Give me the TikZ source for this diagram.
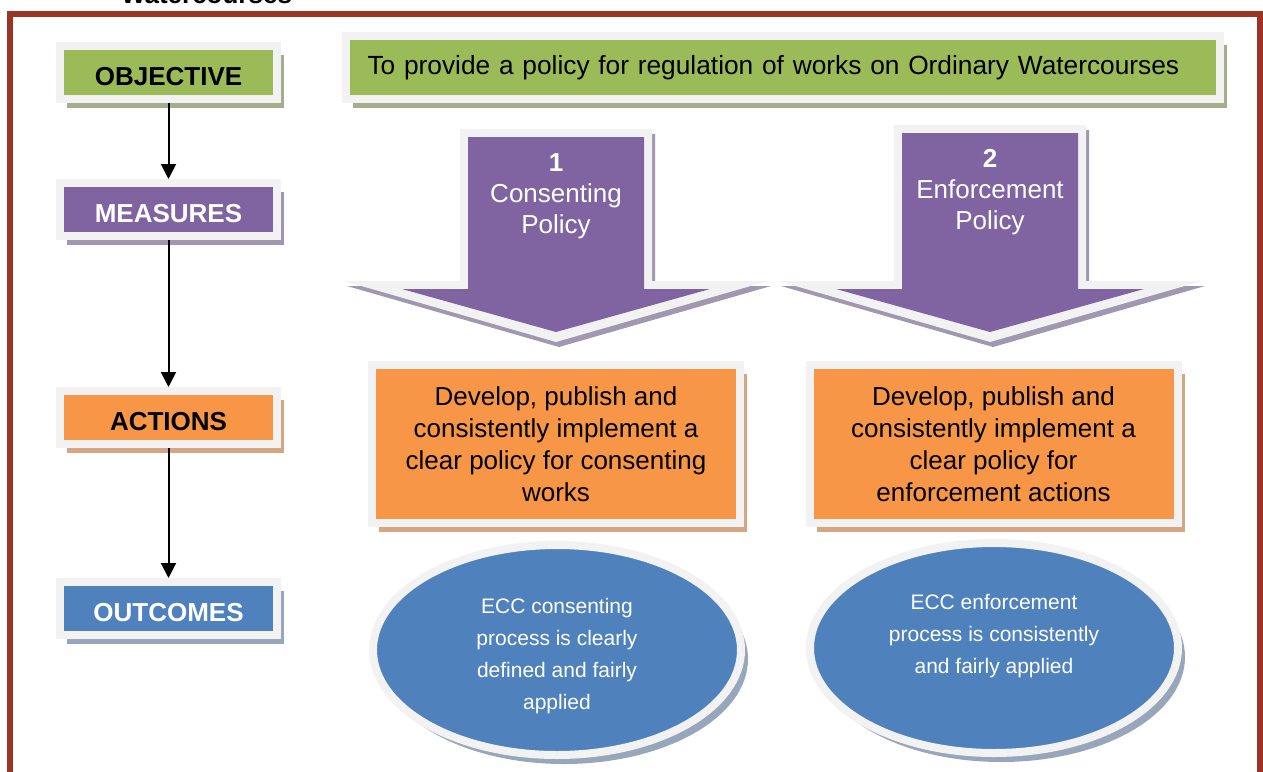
\documentclass[tikz,border=0pt]{standalone}
\usepackage{fontspec}
\setmainfont{Liberation Sans}
\usetikzlibrary{arrows.meta, positioning, shapes.geometric, shadows}

\definecolor{objGreen}{HTML}{9BBB59}
\definecolor{greenShadow}{HTML}{A3AE8C}
\definecolor{measPurple}{HTML}{8064A2}
\definecolor{purpleShadow}{HTML}{A097B0}
\definecolor{actOrange}{HTML}{F79646}
\definecolor{orangeShadow}{HTML}{D6A682}
\definecolor{outBlue}{HTML}{4F81BD}
\definecolor{blueShadow}{HTML}{97A6BA}
\definecolor{frameGray}{HTML}{F2F2F2}
\definecolor{borderRed}{HTML}{9B3426}

\tikzstyle{rimmed} = [draw=frameGray, line width=8pt, outer sep=4pt]
\tikzstyle{stepLabel} = [rectangle, rimmed, minimum width=217pt, minimum height=53pt,
   inner sep=0pt, text height=26pt, text depth=0pt,
   font=\fontsize{26}{31}\selectfont\bfseries]
\tikzstyle{greenBox} = [fill=objGreen, drop shadow={shadow xshift=7pt, shadow yshift=-9pt, fill=greenShadow, opacity=1}]
\tikzstyle{purpleBox} = [fill=measPurple, text=white, drop shadow={shadow xshift=7pt, shadow yshift=-9pt, fill=purpleShadow, opacity=1}]
\tikzstyle{orangeBox} = [fill=actOrange, drop shadow={shadow xshift=7pt, shadow yshift=-9pt, fill=orangeShadow, opacity=1}]
\tikzstyle{blueBox} = [fill=outBlue, text=white, drop shadow={shadow xshift=7pt, shadow yshift=-9pt, fill=blueShadow, opacity=1}]
\tikzstyle{aimBox} = [rectangle, rimmed, greenBox, minimum height=63pt, text width=830pt,
   inner xsep=22pt, align=left, font=\fontsize{26.3}{31}\selectfont]
\tikzstyle{actionBox} = [rectangle, rimmed, orangeBox, minimum width=368pt, minimum height=158pt,
   align=center, font=\fontsize{26}{32}\selectfont]
\tikzstyle{outcomeOval} = [ellipse, rimmed, blueBox, minimum width=368pt, minimum height=210pt]
\tikzstyle{ovalText} = [text=white, align=center, inner sep=0pt, anchor=north,
   font=\fontsize{21}{32}\selectfont]
\tikzstyle{policyText} = [text=white, align=center, inner sep=0pt, anchor=north,
   font=\fontsize{26}{31}\selectfont]
\tikzstyle{flowArrow} = [line width=2pt, -{Triangle[width=15pt,length=15pt]}]

\begin{document}
\begin{tikzpicture}[x=1pt, y=-1pt]
  \path[use as bounding box, fill=white] (0,0) rectangle (1263,771);
  \draw[borderRed, line width=6pt] (10,14) rectangle (1260,800);
  \node[font=\fontsize{26}{31}\selectfont\bfseries, anchor=base] (title) at (206.5,3) {Watercourses};

  % left column
  \node[stepLabel, greenBox] (obj) at (168.5,72.5) {OBJECTIVE};
  \node[stepLabel, purpleBox, below=76pt of obj] (meas) {MEASURES};
  \node[stepLabel, orangeBox, below=147pt of meas] (act) {ACTIONS};
  \node[stepLabel, blueBox, below=130pt of act] (outc) {OUTCOMES};

  \draw[flowArrow] (obj) -- (meas);
  \draw[flowArrow] (meas) -- (act);
  \draw[flowArrow] (act) -- (outc);

  % objective
  \node[aimBox] (aim) at (782.5,67.5) {To provide a policy for regulation of works on Ordinary Watercourses};

  % measures: block arrows (shadow, grey rim, purple body)
  \foreach \cx/\ty in {556/137, 990/133} {
    \fill[frameGray, preaction={fill=purpleShadow, transform canvas={xshift=3pt, yshift=-5pt}}]
      ({\cx-96},{\ty-8}) -- ({\cx+96},{\ty-8}) -- ({\cx+96},281) -- ({\cx+212},281)
      -- (\cx,342) -- ({\cx-212},281) -- ({\cx-96},281) -- cycle;
    \fill[measPurple]
      ({\cx-88},\ty) -- ({\cx+88},\ty) -- ({\cx+88},289) -- ({\cx+154},289)
      -- (\cx,332) -- ({\cx-154},289) -- ({\cx-88},289) -- cycle;
  }
  \node[policyText] (consText) at (556,153.5) {\textbf{1}\\Consenting\\Policy};
  \node[policyText] (enfText) at (990,149.5) {\textbf{2}\\Enforcement\\Policy};

  % actions
  \node[actionBox] (actCons) at (556,444) {Develop, publish and\\consistently implement a\\clear policy for consenting\\works};
  \node[actionBox] (actEnf) at (993.5,444) {Develop, publish and\\consistently implement a\\clear policy for\\enforcement actions};

  % outcomes
  \node[outcomeOval] (ovalCons) at (557,650) {};
  \node[outcomeOval] (ovalEnf) at (994,648) {};
  \node[ovalText] (consOut) at (557,598) {ECC consenting\\process is clearly\\defined and fairly\\applied};
  \node[ovalText] (enfOut) at (994,594) {ECC enforcement\\process is consistently\\and fairly applied};
\end{tikzpicture}
\end{document}
